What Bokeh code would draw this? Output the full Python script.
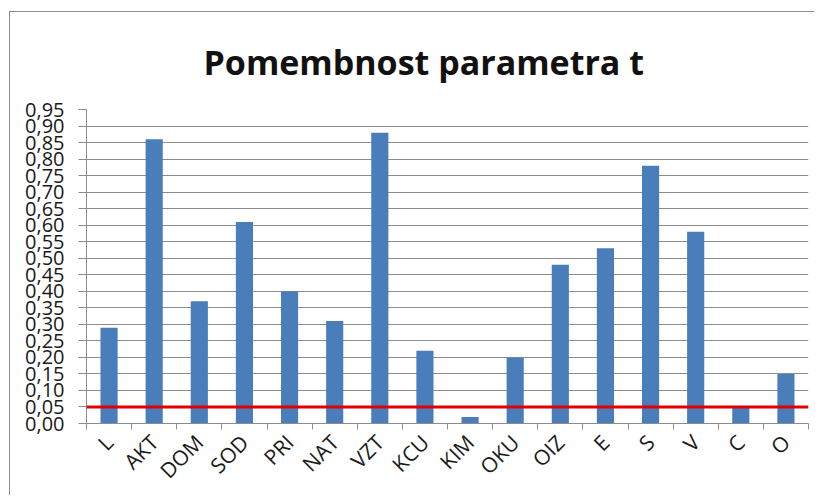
from math import pi
from bokeh.plotting import figure
from bokeh.models import (Range1d, FixedTicker, CustomJSTickFormatter, Span,
                          ColumnDataSource)
from bokeh.embed import file_html
from bokeh.resources import INLINE

categories = ["L", "AKT", "DOM", "SOD", "PRI", "NAT", "VZT", "KCU",
              "KIM", "OKU", "OIZ", "E", "S", "V", "C", "O"]
values = [0.29, 0.86, 0.37, 0.61, 0.40, 0.31, 0.88, 0.22,
          0.02, 0.20, 0.48, 0.53, 0.78, 0.58, 0.05, 0.15]
threshold = 0.05
y_ticks = [0.00, 0.05, 0.10, 0.15, 0.20, 0.25, 0.30, 0.35, 0.40, 0.45,
           0.50, 0.55, 0.60, 0.65, 0.70, 0.75, 0.80, 0.85, 0.90, 0.95]
title_text = "Pomembnost parametra t"

FONT = "Open Sans"
GRID = "#8c8c8c"

idx = list(range(len(categories)))
src = ColumnDataSource(dict(x=idx, top=values, cat=categories))

p = figure(width=805, height=484, output_backend="svg", toolbar_location=None,
           x_range=Range1d(-0.5, len(categories) - 0.5),
           y_range=Range1d(y_ticks[0], y_ticks[-1]),
           min_border_left=76, min_border_right=7, min_border_bottom=73,
           min_border_top=96,
           title=title_text)
p.styles = {"margin-left": "9px", "margin-top": "11px",
            "border-left": "1px solid #8c8c8c", "border-top": "1px solid #8c8c8c"}
p.outline_line_color = None
p.background_fill_color = "white"
p.border_fill_color = "white"

p.title.text_font = FONT
p.title.text_font_style = "bold"
p.title.text_font_size = "34px"
p.title.text_color = "#111111"
p.title.align = "left"
p.title.offset = 117
p.title.standoff = 49

p.vbar(x="x", top="top", width=0.38, source=src, fill_color="#4a7ebb",
       line_color=None)

p.add_layout(Span(location=threshold, dimension="width", line_color="#e00000",
                  line_width=3))

# y axis
p.yaxis.ticker = FixedTicker(ticks=y_ticks)
p.yaxis.formatter = CustomJSTickFormatter(code="return tick.toFixed(2).replace('.', ',');")
p.yaxis.major_label_text_font = FONT
p.yaxis.major_label_text_font_size = "20px"
p.yaxis.major_label_text_color = "#1a1a1a"
p.yaxis.major_tick_out = 8
p.yaxis.major_tick_in = 0
p.yaxis.minor_tick_line_color = None
p.yaxis.axis_line_color = GRID
p.yaxis.major_tick_line_color = GRID
p.yaxis.major_label_standoff = 14

# x axis
p.xaxis.ticker = FixedTicker(ticks=idx,
                             minor_ticks=[i - 0.5 for i in range(len(categories) + 1)])
p.xaxis.major_label_overrides = {i: c for i, c in zip(idx, categories)}
p.xaxis.major_label_orientation = pi / 4
p.xaxis.major_label_text_font = FONT
p.xaxis.major_label_text_font_size = "21px"
p.xaxis.major_label_text_color = "#1a1a1a"
p.xaxis.major_tick_line_color = None
p.xaxis.major_tick_out = 6
p.xaxis.minor_tick_out = 6
p.xaxis.minor_tick_in = 0
p.xaxis.minor_tick_line_color = GRID
p.xaxis.axis_line_color = GRID
p.xaxis.major_label_standoff = 9

p.xgrid.grid_line_color = None
p.ygrid.grid_line_color = GRID
p.ygrid.grid_line_width = 1

open("out.html", "w").write(file_html(p, INLINE))
